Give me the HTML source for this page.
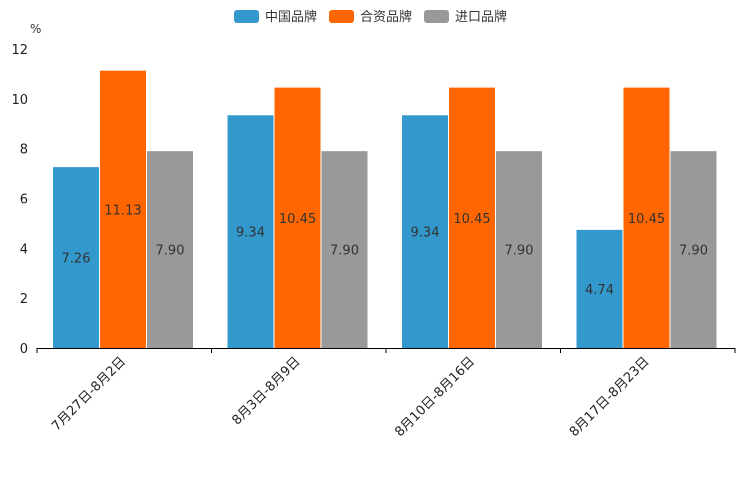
<!DOCTYPE html>
<html><head><meta charset="utf-8"><style>
body{margin:0;background:#fff}
svg text{font-family:"DejaVu Sans","Noto Sans CJK SC",sans-serif}
</style></head><body>
<svg id="c" width="744" height="496" xmlns="http://www.w3.org/2000/svg"></svg>
<script>
const categories=["7月27日-8月2日","8月3日-8月9日","8月10日-8月16日","8月17日-8月23日"];
const seriesNames=["中国品牌","合资品牌","进口品牌"];
const chinaValues=[7.26,9.34,9.34,4.74];
const jvValues=[11.13,10.45,10.45,10.45];
const importValues=[7.90,7.90,7.90,7.90];
const yTicks=[0,2,4,6,8,10,12];
const colors=["#3399cc","#ff6600","#999999"];
const svg=document.getElementById('c');
const NS="http://www.w3.org/2000/svg";
const x0=37,x1=735,y0=348,yTop=49,yMax=12;
const y=v=>y0-(v/yMax)*(y0-yTop);
const gw=(x1-x0)/categories.length;
const bw=46,pad=16;
function mk(t,a,txt){const e=document.createElementNS(NS,t);for(const k in a)e.setAttribute(k,a[k]);if(txt!=null)e.textContent=txt;svg.appendChild(e);return e;}
const legX=[234,329,424];
seriesNames.forEach((n,i)=>{
 const r=mk('rect',{x:legX[i],y:10,width:25,height:13,rx:3,fill:colors[i]});
 
 
 const t=mk('text',{x:legX[i]+31,y:21,'font-size':13,fill:'#333'},n);
 
 
});
const u=mk('text',{x:30,y:33,'font-size':12,fill:'#333'},'%');


yTicks.forEach(v=>{
 const t=mk('text',{x:28,y:y(v)+5,'font-size':13,fill:'#222','text-anchor':'end'},String(v));
 
 
});
const series=[chinaValues,jvValues,importValues];
categories.forEach((c,ci)=>{
 const gx=x0+ci*gw;
 series.forEach((vals,si)=>{
  const bx=gx+pad+si*(bw+1);
  const r=mk('rect',{x:bx,y:y(vals[ci]),width:bw,height:y0-y(vals[ci]),fill:colors[si]});
  
  
  const t=mk('text',{x:bx+bw/2,y:y(vals[ci]/2)+5,'font-size':13,fill:'#333','text-anchor':'middle'},vals[ci].toFixed(2));
  
  
 });
 const tk=mk('line',{x1:gx,x2:gx,y1:y0,y2:y0+5,stroke:'#000'});
 
 
 const lx=gx+gw/2+2,ly=y0+14;
 const t=mk('text',{x:lx,y:ly,'font-size':13,fill:'#222','text-anchor':'end',transform:`rotate(-45 ${lx} ${ly})`},c);
 
 
});
const tk=mk('line',{x1:x1,x2:x1,y1:y0,y2:y0+5,stroke:'#000'});


const ax=mk('line',{x1:x0,x2:x1,y1:y0+0.5,y2:y0+0.5,stroke:'#000'});


</script>
</body></html>
